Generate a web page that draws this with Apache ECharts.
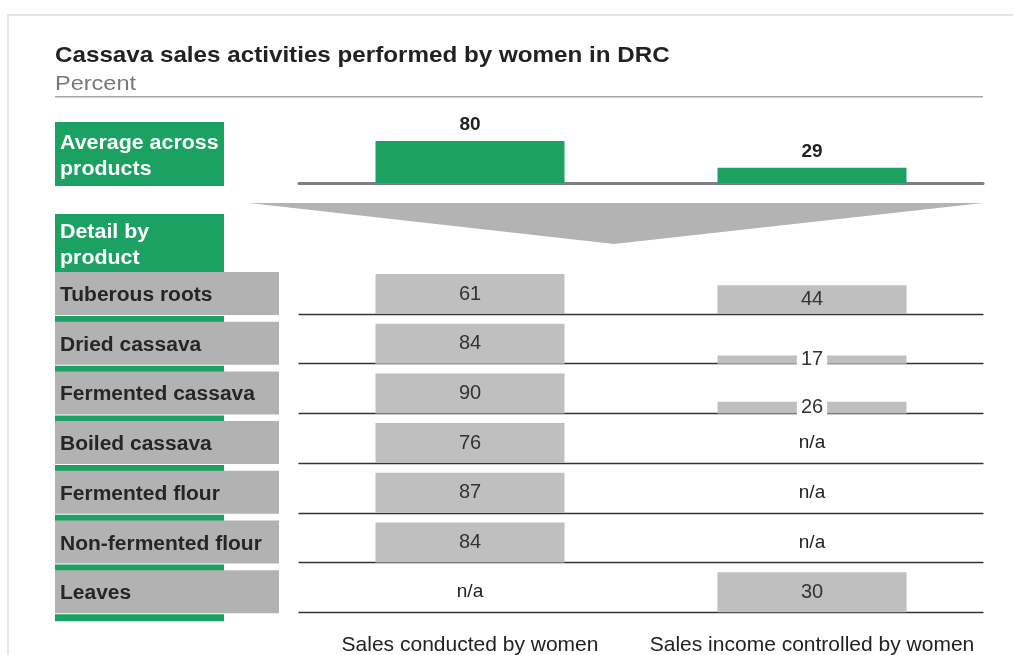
<!DOCTYPE html>
<html>
<head>
<meta charset="utf-8">
<script src="https://cdn.jsdelivr.net/npm/echarts@6/dist/echarts.min.js"></script>
<style>html,body{margin:0;padding:0;background:#fff;}#c{width:1013px;height:655px;}</style>
</head>
<body>
<div id="c"></div>
<script>
// ---- data ----
const columns = ['Sales conducted by women', 'Sales income controlled by women'];
const averages = [80, 29];
const products = ['Tuberous roots', 'Dried cassava', 'Fermented cassava', 'Boiled cassava', 'Fermented flour', 'Non-fermented flour', 'Leaves'];
const salesConducted = [61, 84, 90, 76, 87, 84, null];
const incomeControlled = [44, 17, 26, null, null, null, 30];

// ---- layout ----
const FONT = 'Liberation Sans, Arial, sans-serif';
const GREEN = '#1BA262';
const GRID_L = 299, GRID_R = 30;
const ROW_B0 = 314, ROW_P = 49.7, ROW_H = 40;

const grids = [], xAxes = [], yAxes = [], series = [], graphics = [];

// frame
graphics.push({type:'rect', shape:{x:8, y:15, width:1020, height:660}, style:{fill:'none', stroke:'#e6e6e6', lineWidth:2}, silent:true});
// title + subtitle
graphics.push({type:'text', x:55, y:56, scaleX:1.1, style:{text:'Cassava sales activities performed by women in DRC', fill:'#222', font:'bold 22px ' + FONT, verticalAlign:'middle', align:'left'}, silent:true});
graphics.push({type:'text', x:55, y:84, scaleX:1.12, style:{text:'Percent', fill:'#787878', font:'21px ' + FONT, verticalAlign:'middle', align:'left'}, silent:true});
// title rule
graphics.push({type:'rect', shape:{x:55, y:96, width:928, height:1.6}, style:{fill:'#a6a6a6'}, silent:true});
// chevron
graphics.push({type:'polygon', shape:{points:[[249,203],[983,203],[614,244]]}, style:{fill:'#b3b3b3'}, silent:true});

function greenBox(y, h, txt){
  graphics.push({type:'rect', shape:{x:55, y:y, width:169, height:h}, style:{fill:GREEN}, silent:true});
  graphics.push({type:'text', x:60, y:y + h/2 + 2, scaleX:1.07, style:{text:txt, fill:'#fff', font:'bold 20px ' + FONT, lineHeight:26, verticalAlign:'middle', align:'left'}, silent:true});
}
greenBox(122, 64, 'Average across\nproducts');
greenBox(214, 58, 'Detail by\nproduct');

// top (averages) grid
grids.push({left:GRID_L, right:GRID_R, top:141, height:42, outerBoundsMode:'none', containLabel:false});
xAxes.push({type:'category', gridIndex:0, data:columns, axisLine:{show:true, lineStyle:{color:'#7f7f7f', width:3}}, axisTick:{show:false}, axisLabel:{show:false}});
yAxes.push({type:'value', gridIndex:0, min:0, max:'dataMax', show:false, splitLine:{show:false}});
series.push({type:'bar', xAxisIndex:0, yAxisIndex:0, barWidth:189, data:averages,
  itemStyle:{color:GREEN},
  label:{show:true, position:'top', distance:7, fontFamily:FONT, fontSize:19, fontWeight:'bold', color:'#222'}});

// detail rows
products.forEach((name, i) => {
  const base = ROW_B0 + ROW_P * i;
  const gi = i + 1;
  // category label boxes
  graphics.push({type:'rect', shape:{x:55, y:base - 42, width:224, height:43}, style:{fill:'#b2b2b2'}, silent:true});
  graphics.push({type:'rect', shape:{x:55, y:base + 2, width:169, height:7}, style:{fill:GREEN}, silent:true});
  graphics.push({type:'text', x:60, y:base - 18.5, scaleX:1.05, style:{text:name, fill:'#262626', font:'bold 20px ' + FONT, verticalAlign:'middle', align:'left'}, silent:true});

  const vals = [salesConducted[i], incomeControlled[i]];
  const rowMax = Math.max(...vals.filter(v => v != null));
  grids.push({left:GRID_L, right:GRID_R, top:base - ROW_H, height:ROW_H, outerBoundsMode:'none', containLabel:false});
  const last = i === products.length - 1;
  xAxes.push({type:'category', gridIndex:gi, data:columns,
    axisLine:{show:true, lineStyle:{color:'#333', width:1.3}}, axisTick:{show:false},
    axisLabel:{show:last, margin:23, fontFamily:FONT, fontSize:21, color:'#222', interval:0}});
  yAxes.push({type:'value', gridIndex:gi, min:0, max:rowMax, show:false, splitLine:{show:false}});
  series.push({type:'bar', xAxisIndex:gi, yAxisIndex:gi, barWidth:189,
    itemStyle:{color:'#bfbfbf'},
    label:{show:true, position:'inside', fontFamily:FONT, fontSize:20, color:'#333'},
    data: vals.map(v => {
      if (v == null) {
        return {value: rowMax, itemStyle:{color:'rgba(0,0,0,0)'}, label:{formatter:'n/a', color:'#222', fontSize:19}};
      }
      if (v / rowMax < 0.5) {
        return {value: v, label:{backgroundColor:'#fff', padding:[1,4]}};
      }
      return v;
    })});
});

const chart = echarts.init(document.getElementById('c'), null, {renderer:'canvas'});
chart.setOption({
  animation:false,
  backgroundColor:'#fff',
  grid:grids, xAxis:xAxes, yAxis:yAxes, series:series, graphic:graphics
});
</script>
</body>
</html>
